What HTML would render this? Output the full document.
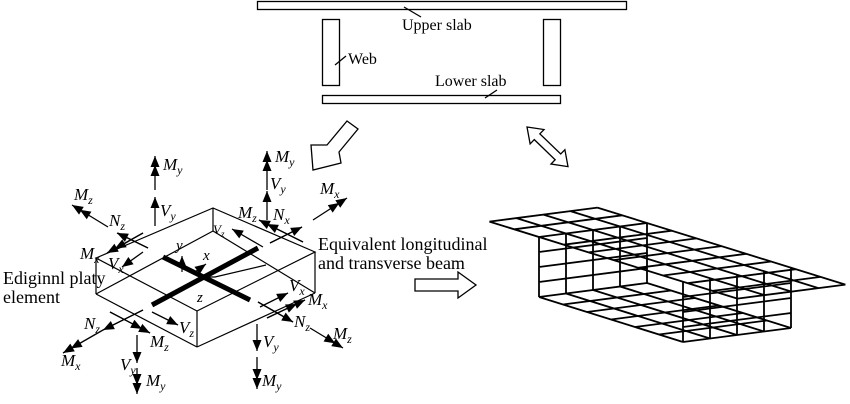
<!DOCTYPE html>
<html><head><meta charset="utf-8"><style>
html,body{margin:0;padding:0;background:#fff;}
svg{display:block;}
text{font-family:"Liberation Serif",serif;fill:#000;}
.l{font-style:italic;font-size:17px;}
.s{font-size:12px;}
.t{font-size:16px;}
.b{font-size:18px;}
</style></head><body>
<svg width="850" height="404" viewBox="0 0 850 404" xmlns="http://www.w3.org/2000/svg">
<defs>
<marker id="a1" markerUnits="userSpaceOnUse" markerWidth="24" markerHeight="24" refX="0" refY="0" orient="auto" viewBox="-24 -12 24 24" style="overflow:visible">
<path d="M0,0 L-11,-4.5 L-11,4.5 Z" fill="#000"/></marker>
<marker id="a2" markerUnits="userSpaceOnUse" markerWidth="24" markerHeight="24" refX="0" refY="0" orient="auto" viewBox="-24 -12 24 24" style="overflow:visible">
<path d="M0,0 L-11,-4.5 L-11,4.5 Z M-9,0 L-20,-4.5 L-20,4.5 Z" fill="#000"/></marker>
</defs>

<g fill="none" stroke="#000" stroke-width="1.3">
<rect x="257.5" y="1.5" width="369" height="8"/>
<rect x="322.5" y="19.5" width="17" height="66"/>
<rect x="543.5" y="19.5" width="17" height="66"/>
<rect x="322.5" y="95.5" width="238" height="8"/>
<line x1="404" y1="7" x2="421" y2="17"/>
<line x1="335" y1="65" x2="346" y2="56"/>
<line x1="485" y1="98" x2="497" y2="90"/>
</g>
<text class="t" x="402" y="30">Upper slab</text>
<text class="t" x="348" y="64">Web</text>
<text class="t" x="435" y="86">Lower slab</text>

<g fill="#fff" stroke="#000" stroke-width="1.3" stroke-linejoin="miter">
<polygon points="347,121 358,129 339,152 341,163 313,170 311,145 327,145"/>
<g transform="translate(527,127) rotate(44)">
<polygon points="0,0 14,-10 14,-4 43,-4 43,-10 57,0 43,10 43,4 14,4 14,10"/>
</g>
<polygon points="415,279 458,279 458,272 476,285 458,298 458,291 415,291"/>
</g>

<g fill="none" stroke="#000" stroke-width="1.8">
<g transform="matrix(27,-3.5,24.8,7.7,539,237)">
<path vector-effect="non-scaling-stroke" d="M0,-2V8M1,-2V8M2,-2V8M3,-2V8M4,-2V8 M0,-2H4M0,-1H4M0,0H4M0,1H4M0,2H4M0,3H4M0,4H4M0,5H4M0,6H4M0,7H4M0,8H4"/>
</g>
<g transform="matrix(27,-3.5,24,7.5,539,297)">
<path vector-effect="non-scaling-stroke" d="M0,0V6M1,0V6M2,0V6M3,0V6M4,0V6 M0,0H4M0,1H4M0,2H4M0,3H4M0,4H4M0,5H4M0,6H4"/>
</g>
<g transform="matrix(27,-3.5,0,15,539,237)">
<path vector-effect="non-scaling-stroke" d="M0,0V4M1,0V4M2,0V4M3,0V4M4,0V4 M0,1H4M0,2H4M0,3H4"/>
</g>
<g transform="matrix(27,-3.5,0,15,683,282)">
<path vector-effect="non-scaling-stroke" d="M0,0V4M1,0V4M2,0V4M3,0V4M4,0V4 M0,1H4M0,2H4M0,3H4"/>
</g>
</g>

<g fill="none" stroke="#000" stroke-width="1.2">
<polygon points="96,258 213,208 315,252 197,311"/>
<line x1="96" y1="258" x2="96" y2="294"/>
<line x1="197" y1="311" x2="197" y2="347"/>
<line x1="315" y1="252" x2="315" y2="293"/>
<line x1="96" y1="294" x2="197" y2="347"/>
<line x1="197" y1="347" x2="315" y2="293"/>
<line x1="213" y1="208" x2="213" y2="231"/>
<line x1="213" y1="231" x2="315" y2="293"/>
<line x1="213" y1="231" x2="96" y2="294"/>
<polyline points="200,277 215,277 266,265"/>
<line x1="143" y1="233" x2="110" y2="252"/>
<line x1="148" y1="248" x2="118" y2="233"/>
<line x1="143" y1="310" x2="103" y2="330"/>
<line x1="110" y1="312" x2="150" y2="333"/>
<line x1="270" y1="243" x2="302" y2="227"/>
<line x1="303" y1="242" x2="259" y2="220"/>
<line x1="267" y1="318" x2="305" y2="300"/>
<line x1="258" y1="302" x2="293" y2="322"/>
</g>
<g stroke="#000" stroke-width="5" stroke-linecap="butt">
<line x1="163" y1="257" x2="250" y2="300"/>
<line x1="152" y1="305" x2="258" y2="248"/>
</g>
<g stroke="#000" stroke-width="1.2" fill="none">
<line x1="182" y1="272" x2="182" y2="256" marker-end="url(#a1)"/>
<line x1="195" y1="272" x2="206" y2="264" marker-end="url(#a1)"/>
</g>
<text class="l" x="176" y="250" style="font-size:15px">y</text>
<text class="l" x="203" y="260" style="font-size:15px">x</text>
<text class="l" x="197" y="302" style="font-size:15px">z</text>

<g stroke="#000" stroke-width="1.3" fill="none">
<line x1="155" y1="190" x2="155" y2="156" marker-end="url(#a2)"/>
<line x1="155" y1="226" x2="155" y2="197" marker-end="url(#a1)"/>
<line x1="108" y1="227" x2="72" y2="205" marker-end="url(#a2)"/>
<line x1="148" y1="248" x2="117" y2="233" marker-end="url(#a1)"/>
<line x1="143" y1="233" x2="107" y2="253" marker-end="url(#a2)"/>
<line x1="143" y1="252" x2="122" y2="267" marker-end="url(#a1)"/>
<line x1="143" y1="310" x2="103" y2="330" marker-end="url(#a1)"/>
<line x1="103" y1="330" x2="63" y2="353" marker-end="url(#a2)"/>
<line x1="110" y1="312" x2="150" y2="333" marker-end="url(#a2)"/>
<line x1="137" y1="335" x2="137" y2="363" marker-end="url(#a1)"/>
<line x1="137" y1="368" x2="137" y2="394" marker-end="url(#a2)"/>
<line x1="152" y1="312" x2="178" y2="325" marker-end="url(#a1)"/>
<line x1="260" y1="307" x2="288" y2="293" marker-end="url(#a1)"/>
<line x1="267" y1="318" x2="305" y2="300" marker-end="url(#a2)"/>
<line x1="258" y1="302" x2="293" y2="322" marker-end="url(#a1)"/>
<line x1="310" y1="328" x2="343" y2="348" marker-end="url(#a2)"/>
<line x1="257" y1="324" x2="257" y2="351" marker-end="url(#a1)"/>
<line x1="257" y1="357" x2="257" y2="389" marker-end="url(#a2)"/>
<line x1="267" y1="190" x2="267" y2="151" marker-end="url(#a2)"/>
<line x1="267" y1="220" x2="267" y2="191" marker-end="url(#a1)"/>
<line x1="303" y1="242" x2="259" y2="220" marker-end="url(#a2)"/>
<line x1="270" y1="243" x2="302" y2="227" marker-end="url(#a1)"/>
<line x1="313" y1="220" x2="347" y2="198" marker-end="url(#a2)"/>
<line x1="263" y1="247" x2="232" y2="229" marker-end="url(#a1)"/>
</g>

<text class="l" x="163" y="170">M<tspan class="s" dy="4">y</tspan></text>
<text class="l" x="160" y="216">V<tspan class="s" dy="4">y</tspan></text>
<text class="l" x="74" y="200">M<tspan class="s" dy="4">z</tspan></text>
<text class="l" x="109" y="226">N<tspan class="s" dy="4">z</tspan></text>
<text class="l" x="80" y="259">M<tspan class="s" dy="4">x</tspan></text>
<text class="l" x="108" y="269">V<tspan class="s" dy="4">x</tspan></text>
<text class="l" x="84" y="329">N<tspan class="s" dy="4">z</tspan></text>
<text class="l" x="61" y="366">M<tspan class="s" dy="4">x</tspan></text>
<text class="l" x="150" y="347">M<tspan class="s" dy="4">z</tspan></text>
<text class="l" x="120" y="370">V<tspan class="s" dy="4">y</tspan></text>
<text class="l" x="146" y="386">M<tspan class="s" dy="4">y</tspan></text>
<text class="l" x="179" y="333">V<tspan class="s" dy="4">z</tspan></text>
<text class="l" x="289" y="291">V<tspan class="s" dy="4">x</tspan></text>
<text class="l" x="308" y="305">M<tspan class="s" dy="4">x</tspan></text>
<text class="l" x="294" y="327">N<tspan class="s" dy="4">z</tspan></text>
<text class="l" x="333" y="339">M<tspan class="s" dy="4">z</tspan></text>
<text class="l" x="263" y="347">V<tspan class="s" dy="4">y</tspan></text>
<text class="l" x="262" y="386">M<tspan class="s" dy="4">y</tspan></text>
<text class="l" x="275" y="162">M<tspan class="s" dy="4">y</tspan></text>
<text class="l" x="270" y="189">V<tspan class="s" dy="4">y</tspan></text>
<text class="l" x="238" y="218">M<tspan class="s" dy="4">z</tspan></text>
<text class="l" x="273" y="220">N<tspan class="s" dy="4">x</tspan></text>
<text class="l" x="320" y="194">M<tspan class="s" dy="4">x</tspan></text>
<text class="l" x="213" y="234" style="font-size:13px">V<tspan class="s" dy="3" style="font-size:9px">z</tspan></text>

<text class="b" x="3" y="284">Ediginnl platy</text>
<text class="b" x="3" y="303">element</text>
<text class="b" x="318" y="250">Equivalent longitudinal</text>
<text class="b" x="318" y="269">and transverse beam</text>
</svg>
</body></html>
